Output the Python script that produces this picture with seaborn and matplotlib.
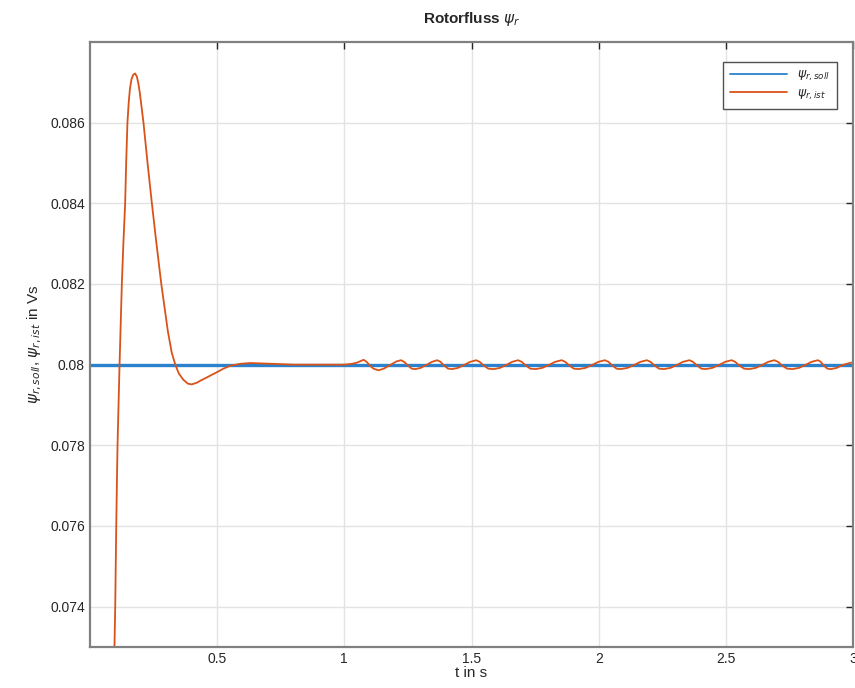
import numpy as np
import pandas as pd
import matplotlib
matplotlib.use("Agg")
import matplotlib.pyplot as plt
import seaborn as sns

# ─── Daten ──────────────────────────────────────────────────────────────────
t_soll = [0.0, 3.0]
psi_soll = [0.08, 0.08]

# Einschwingvorgang 0 ... 1 s
t_anlauf = [0.094, 0.097, 0.100, 0.104, 0.109, 0.117, 0.126, 0.132, 0.139, 0.143,
            0.148, 0.153, 0.158, 0.164, 0.171, 0.178, 0.185, 0.191, 0.197, 0.203,
            0.211, 0.227, 0.244, 0.262, 0.281, 0.294, 0.307, 0.322, 0.336, 0.350,
            0.367, 0.385, 0.400, 0.420, 0.440, 0.459, 0.480, 0.499, 0.525, 0.551,
            0.590, 0.630, 0.680, 0.720, 0.800, 1.000]
psi_anlauf = [0.0720, 0.0730, 0.0740, 0.0760, 0.0780, 0.0800, 0.0820, 0.0830, 0.0840, 0.0850,
              0.0860, 0.0865, 0.08685, 0.08708, 0.08719, 0.08722, 0.08714, 0.08697, 0.08672, 0.08642,
              0.0860, 0.0850, 0.0840, 0.0830, 0.0820, 0.0814, 0.08082, 0.0803, 0.0800, 0.07978,
              0.07963, 0.07953, 0.07951, 0.07955, 0.07962, 0.07968, 0.07975, 0.07981, 0.07990, 0.07997,
              0.08002, 0.08004, 0.08003, 0.08002, 0.08000, 0.08000]

# Schwingung um den Sollwert 1 ... 3 s
t_schwing = [1.030, 1.050, 1.065, 1.076, 1.088, 1.100, 1.115, 1.135, 1.155, 1.180,
             1.205, 1.223, 1.235, 1.250, 1.265, 1.280, 1.300, 1.322, 1.345, 1.365,
             1.378, 1.392, 1.408, 1.424, 1.447, 1.470, 1.495, 1.518, 1.532, 1.548,
             1.566, 1.588, 1.612, 1.636, 1.660, 1.683, 1.697, 1.713, 1.731, 1.752,
             1.778, 1.803, 1.829, 1.854, 1.868, 1.884, 1.902, 1.922, 1.948, 1.973,
             1.999, 2.024, 2.038, 2.053, 2.070, 2.087, 2.113, 2.138, 2.164, 2.189,
             2.203, 2.219, 2.237, 2.257, 2.282, 2.306, 2.331, 2.356, 2.370, 2.386,
             2.403, 2.421, 2.446, 2.472, 2.497, 2.522, 2.536, 2.552, 2.571, 2.592,
             2.617, 2.641, 2.666, 2.690, 2.704, 2.720, 2.740, 2.762, 2.787, 2.811,
             2.836, 2.861, 2.872, 2.884, 2.898, 2.913, 2.935, 2.958, 2.980, 3.000]
psi_schwing = [0.08002, 0.08005, 0.08009, 0.08012, 0.08007, 0.07998, 0.07990, 0.07986, 0.07990, 0.07999,
               0.08008, 0.08011, 0.08007, 0.07998, 0.07990, 0.07989, 0.07992, 0.07999, 0.08007, 0.08011,
               0.08007, 0.07998, 0.07990, 0.07989, 0.07992, 0.07999, 0.08007, 0.08011, 0.08007, 0.07998,
               0.07990, 0.07989, 0.07992, 0.07999, 0.08007, 0.08011, 0.08007, 0.07998, 0.07990, 0.07989,
               0.07992, 0.07999, 0.08007, 0.08011, 0.08007, 0.07998, 0.07990, 0.07989, 0.07992, 0.07999,
               0.08007, 0.08011, 0.08007, 0.07998, 0.07990, 0.07989, 0.07992, 0.07999, 0.08007, 0.08011,
               0.08007, 0.07998, 0.07990, 0.07989, 0.07992, 0.07999, 0.08007, 0.08011, 0.08007, 0.07998,
               0.07990, 0.07989, 0.07992, 0.07999, 0.08007, 0.08011, 0.08007, 0.07998, 0.07990, 0.07989,
               0.07992, 0.07999, 0.08007, 0.08011, 0.08007, 0.07998, 0.07990, 0.07989, 0.07992, 0.07999,
               0.08007, 0.08011, 0.08007, 0.07998, 0.07990, 0.07989, 0.07992, 0.07999, 0.08003, 0.08006]

x_ticks = [0.5, 1.0, 1.5, 2.0, 2.5, 3.0]
x_ticklabels = ["0.5", "1", "1.5", "2", "2.5", "3"]
y_ticks = [0.074, 0.076, 0.078, 0.080, 0.082, 0.084, 0.086]
y_ticklabels = ["0.074", "0.076", "0.078", "0.08", "0.082", "0.084", "0.086"]

df_soll = pd.DataFrame({"t": t_soll, "psi": psi_soll})
df_ist = pd.DataFrame({"t": t_anlauf + t_schwing, "psi": psi_anlauf + psi_schwing})

# ─── Plot ────────────────────────────────────────────────────────────────────
sns.set_style("white")
plt.rcParams["font.family"] = ["Liberation Sans", "DejaVu Sans"]
plt.rcParams["mathtext.fontset"] = "dejavusans"

fig = plt.figure(figsize=(8.55, 6.88), dpi=100)
ax = fig.add_axes([0.105, 0.0596, 0.893, 0.8794])

sns.lineplot(data=df_soll, x="t", y="psi", ax=ax, sort=False,
             color="#2a82cf", linewidth=2.4, label=r"$\psi_{r,soll}$")
sns.lineplot(data=df_ist, x="t", y="psi", ax=ax, sort=False,
             color="#D95319", linewidth=1.3, label=r"$\psi_{r,ist}$")

ax.set_xlim(0, 3)
ax.set_ylim(0.073, 0.088)
ax.set_xticks(x_ticks)
ax.set_xticklabels(x_ticklabels)
ax.set_yticks(y_ticks)
ax.set_yticklabels(y_ticklabels)
ax.grid(True, color="#e3e3e3", linewidth=1.0)
ax.set_axisbelow(True)
ax.tick_params(direction="in", length=5, width=1, colors="#262626",
               labelcolor="#262626", labelsize=10, top=True, right=True)
for sp in ax.spines.values():
    sp.set_color("#808080")
    sp.set_linewidth(1.6)

ax.set_title(r"Rotorfluss $\psi_r$", fontsize=11, fontweight="bold", pad=14)
ax.set_xlabel("t in s", fontsize=11, labelpad=0)
ax.set_ylabel(r"$\psi_{r,soll}$, $\psi_{r,ist}$ in Vs", fontsize=11, labelpad=4)

leg = ax.legend(loc="upper right", fontsize=9, frameon=True, fancybox=False,
                handlelength=4.5, borderpad=0.6, labelspacing=0.35,
                bbox_to_anchor=(0.987, 0.978))
leg.get_frame().set_edgecolor("#262626")
leg.get_frame().set_linewidth(1.0)
for ln in leg.get_lines():
    ln.set_linewidth(1.3)

fig.savefig("out.png", dpi=100)
